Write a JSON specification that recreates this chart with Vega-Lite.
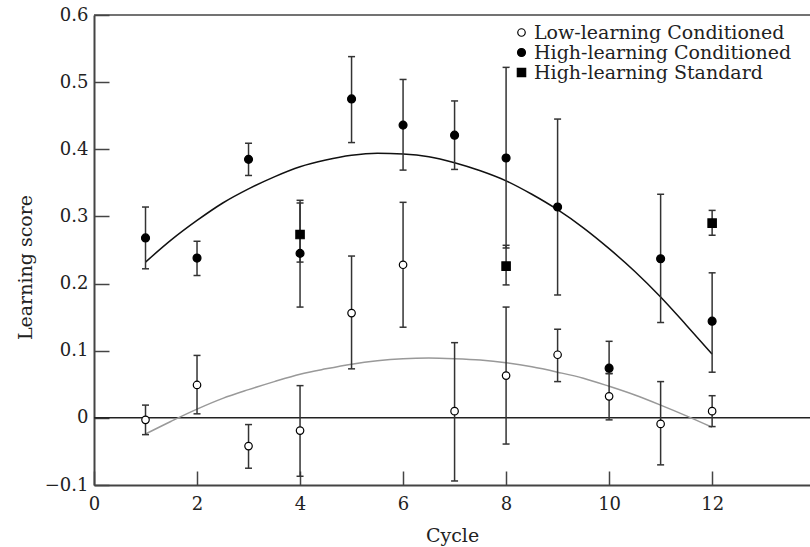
{
  "$schema": "https://vega.github.io/schema/vega-lite/v6.json",
  "width": 716,
  "height": 470,
  "autosize": {"type": "none"},
  "padding": {"left": 94, "top": 15, "right": 0, "bottom": 62},
  "background": "white",
  "config": {
    "view": {"stroke": null},
    "font": "DejaVu Serif",
    "axisX": {
      "grid": false,
      "domainColor": "#444",
      "domainWidth": 2,
      "tickColor": "#444",
      "tickWidth": 1.5,
      "tickSize": -14,
      "labelPadding": 24,
      "labelFont": "DejaVu Serif",
      "labelFontSize": 18,
      "labelColor": "#222",
      "labelFlush": false,
      "titleFont": "DejaVu Serif",
      "titleFontSize": 19,
      "titleFontWeight": "normal",
      "titleColor": "#222",
      "titlePadding": 13
    },
    "axisY": {
      "grid": false,
      "domainColor": "#444",
      "domainWidth": 2,
      "tickColor": "#444",
      "tickWidth": 1.5,
      "tickSize": -15,
      "labelPadding": 21,
      "labelFont": "DejaVu Serif",
      "labelFontSize": 18,
      "labelColor": "#222",
      "labelFlush": false,
      "titleFont": "DejaVu Serif",
      "titleFontSize": 19,
      "titleFontWeight": "normal",
      "titleColor": "#222",
      "titlePadding": 9,
      "titleY": 252
    },
    "legend": {
      "orient": "none",
      "legendX": 418,
      "legendY": 8,
      "labelFont": "DejaVu Serif",
      "labelFontSize": 19,
      "labelColor": "#222",
      "labelLimit": 500,
      "labelOffset": 3,
      "rowPadding": 0,
      "padding": 0,
      "symbolStrokeColor": "black",
      "symbolStrokeWidth": 1.2
    }
  },
  "datasets": {
    "pts": [
      {"cycle": 1, "group": "Low-learning Conditioned", "score": -0.003, "lo": -0.025, "hi": 0.019},
      {"cycle": 2, "group": "Low-learning Conditioned", "score": 0.049, "lo": 0.006, "hi": 0.093},
      {"cycle": 3, "group": "Low-learning Conditioned", "score": -0.042, "lo": -0.075, "hi": -0.010},
      {"cycle": 4, "group": "Low-learning Conditioned", "score": -0.019, "lo": -0.087, "hi": 0.048},
      {"cycle": 5, "group": "Low-learning Conditioned", "score": 0.156, "lo": 0.073, "hi": 0.241},
      {"cycle": 6, "group": "Low-learning Conditioned", "score": 0.228, "lo": 0.135, "hi": 0.321},
      {"cycle": 7, "group": "Low-learning Conditioned", "score": 0.010, "lo": -0.094, "hi": 0.112},
      {"cycle": 8, "group": "Low-learning Conditioned", "score": 0.063, "lo": -0.039, "hi": 0.165},
      {"cycle": 9, "group": "Low-learning Conditioned", "score": 0.094, "lo": 0.054, "hi": 0.132},
      {"cycle": 10, "group": "Low-learning Conditioned", "score": 0.032, "lo": -0.003, "hi": 0.066},
      {"cycle": 11, "group": "Low-learning Conditioned", "score": -0.009, "lo": -0.070, "hi": 0.054},
      {"cycle": 12, "group": "Low-learning Conditioned", "score": 0.010, "lo": -0.013, "hi": 0.033},
      {"cycle": 1, "group": "High-learning Conditioned", "score": 0.268, "lo": 0.222, "hi": 0.314},
      {"cycle": 2, "group": "High-learning Conditioned", "score": 0.238, "lo": 0.212, "hi": 0.263},
      {"cycle": 3, "group": "High-learning Conditioned", "score": 0.385, "lo": 0.361, "hi": 0.409},
      {"cycle": 4, "group": "High-learning Conditioned", "score": 0.245, "lo": 0.165, "hi": 0.324},
      {"cycle": 5, "group": "High-learning Conditioned", "score": 0.475, "lo": 0.410, "hi": 0.538},
      {"cycle": 6, "group": "High-learning Conditioned", "score": 0.436, "lo": 0.369, "hi": 0.504},
      {"cycle": 7, "group": "High-learning Conditioned", "score": 0.421, "lo": 0.370, "hi": 0.472},
      {"cycle": 8, "group": "High-learning Conditioned", "score": 0.387, "lo": 0.253, "hi": 0.522},
      {"cycle": 9, "group": "High-learning Conditioned", "score": 0.314, "lo": 0.183, "hi": 0.445},
      {"cycle": 10, "group": "High-learning Conditioned", "score": 0.074, "lo": 0.066, "hi": 0.114},
      {"cycle": 11, "group": "High-learning Conditioned", "score": 0.237, "lo": 0.142, "hi": 0.333},
      {"cycle": 12, "group": "High-learning Conditioned", "score": 0.144, "lo": 0.068, "hi": 0.216},
      {"cycle": 4, "group": "High-learning Standard", "score": 0.273, "lo": 0.232, "hi": 0.320},
      {"cycle": 8, "group": "High-learning Standard", "score": 0.226, "lo": 0.198, "hi": 0.257},
      {"cycle": 12, "group": "High-learning Standard", "score": 0.290, "lo": 0.272, "hi": 0.309}
    ],
    "hifit": [
      {"cycle": 1, "score": 0.232}, {"cycle": 1.5, "score": 0.265}, {"cycle": 2, "score": 0.294},
      {"cycle": 2.5, "score": 0.320}, {"cycle": 3, "score": 0.341}, {"cycle": 3.5, "score": 0.359},
      {"cycle": 4, "score": 0.374}, {"cycle": 4.5, "score": 0.384}, {"cycle": 5, "score": 0.391},
      {"cycle": 5.5, "score": 0.394}, {"cycle": 6, "score": 0.393}, {"cycle": 6.5, "score": 0.389},
      {"cycle": 7, "score": 0.380}, {"cycle": 7.5, "score": 0.368}, {"cycle": 8, "score": 0.353},
      {"cycle": 8.5, "score": 0.333}, {"cycle": 9, "score": 0.310}, {"cycle": 9.5, "score": 0.283},
      {"cycle": 10, "score": 0.252}, {"cycle": 10.5, "score": 0.218}, {"cycle": 11, "score": 0.180},
      {"cycle": 11.5, "score": 0.138}, {"cycle": 12, "score": 0.095}
    ],
    "lofit": [
      {"cycle": 1, "score": -0.024}, {"cycle": 1.5, "score": -0.005}, {"cycle": 2, "score": 0.013},
      {"cycle": 2.5, "score": 0.029}, {"cycle": 3, "score": 0.042}, {"cycle": 3.5, "score": 0.054},
      {"cycle": 4, "score": 0.065}, {"cycle": 4.5, "score": 0.073}, {"cycle": 5, "score": 0.080},
      {"cycle": 5.5, "score": 0.085}, {"cycle": 6, "score": 0.088}, {"cycle": 6.5, "score": 0.089},
      {"cycle": 7, "score": 0.088}, {"cycle": 7.5, "score": 0.086}, {"cycle": 8, "score": 0.082},
      {"cycle": 8.5, "score": 0.076}, {"cycle": 9, "score": 0.068}, {"cycle": 9.5, "score": 0.059},
      {"cycle": 10, "score": 0.047}, {"cycle": 10.5, "score": 0.034}, {"cycle": 11, "score": 0.019},
      {"cycle": 11.5, "score": 0.003}, {"cycle": 12, "score": -0.014}
    ],
    "refs": [{"level": 0, "kind": "zero"}, {"level": 0.6, "kind": "top"}]
  },
  "layer": [
    {
      "data": {"name": "refs"},
      "mark": {"type": "rule", "strokeWidth": 1.5},
      "encoding": {
        "y": {"field": "level", "type": "quantitative", "scale": {"domain": [-0.1, 0.6], "nice": false, "zero": false},
              "axis": {"title": "Learning score", "values": [-0.1, 0, 0.1, 0.2, 0.3, 0.4, 0.5, 0.6], "format": ".1~f"}},
        "color": {"field": "kind", "type": "nominal", "scale": {"domain": ["zero", "top"], "range": ["#222", "#444"]}, "legend": null}
      }
    },
    {
      "data": {"name": "lofit"},
      "mark": {"type": "line", "color": "#999", "strokeWidth": 1.5, "interpolate": "monotone"},
      "encoding": {
        "x": {"field": "cycle", "type": "quantitative", "scale": {"domain": [0, 13.9], "nice": false, "zero": false},
              "axis": {"title": "Cycle", "values": [0, 2, 4, 6, 8, 10, 12], "format": "d"}},
        "y": {"field": "score", "type": "quantitative", "scale": {"domain": [-0.1, 0.6], "nice": false, "zero": false},
              "axis": {"title": "Learning score", "values": [-0.1, 0, 0.1, 0.2, 0.3, 0.4, 0.5, 0.6], "format": ".1~f"}}
      }
    },
    {
      "data": {"name": "hifit"},
      "mark": {"type": "line", "color": "#111", "strokeWidth": 1.5, "interpolate": "monotone"},
      "encoding": {
        "x": {"field": "cycle", "type": "quantitative", "scale": {"domain": [0, 13.9], "nice": false, "zero": false},
              "axis": {"title": "Cycle", "values": [0, 2, 4, 6, 8, 10, 12], "format": "d"}},
        "y": {"field": "score", "type": "quantitative", "scale": {"domain": [-0.1, 0.6], "nice": false, "zero": false},
              "axis": {"title": "Learning score", "values": [-0.1, 0, 0.1, 0.2, 0.3, 0.4, 0.5, 0.6], "format": ".1~f"}}
      }
    },
    {
      "data": {"name": "pts"},
      "mark": {"type": "rule", "color": "#333", "strokeWidth": 1.5},
      "encoding": {
        "x": {"field": "cycle", "type": "quantitative", "scale": {"domain": [0, 13.9], "nice": false, "zero": false},
              "axis": {"title": "Cycle", "values": [0, 2, 4, 6, 8, 10, 12], "format": "d"}},
        "y": {"field": "lo", "type": "quantitative", "scale": {"domain": [-0.1, 0.6], "nice": false, "zero": false},
              "axis": {"title": "Learning score", "values": [-0.1, 0, 0.1, 0.2, 0.3, 0.4, 0.5, 0.6], "format": ".1~f"}},
        "y2": {"field": "hi"}
      }
    },
    {
      "data": {"name": "pts"},
      "mark": {"type": "tick", "orient": "horizontal", "size": 7, "thickness": 1.5, "color": "#333", "opacity": 1},
      "encoding": {
        "x": {"field": "cycle", "type": "quantitative", "scale": {"domain": [0, 13.9], "nice": false, "zero": false},
              "axis": {"title": "Cycle", "values": [0, 2, 4, 6, 8, 10, 12], "format": "d"}},
        "y": {"field": "lo", "type": "quantitative", "scale": {"domain": [-0.1, 0.6], "nice": false, "zero": false},
              "axis": {"title": "Learning score", "values": [-0.1, 0, 0.1, 0.2, 0.3, 0.4, 0.5, 0.6], "format": ".1~f"}}
      }
    },
    {
      "data": {"name": "pts"},
      "mark": {"type": "tick", "orient": "horizontal", "size": 7, "thickness": 1.5, "color": "#333", "opacity": 1},
      "encoding": {
        "x": {"field": "cycle", "type": "quantitative", "scale": {"domain": [0, 13.9], "nice": false, "zero": false},
              "axis": {"title": "Cycle", "values": [0, 2, 4, 6, 8, 10, 12], "format": "d"}},
        "y": {"field": "hi", "type": "quantitative", "scale": {"domain": [-0.1, 0.6], "nice": false, "zero": false},
              "axis": {"title": "Learning score", "values": [-0.1, 0, 0.1, 0.2, 0.3, 0.4, 0.5, 0.6], "format": ".1~f"}}
      }
    },
    {
      "data": {"name": "pts"},
      "mark": {"type": "point", "filled": true, "strokeWidth": 1.2, "opacity": 1},
      "encoding": {
        "x": {"field": "cycle", "type": "quantitative", "scale": {"domain": [0, 13.9], "nice": false, "zero": false},
              "axis": {"title": "Cycle", "values": [0, 2, 4, 6, 8, 10, 12], "format": "d"}},
        "y": {"field": "score", "type": "quantitative", "scale": {"domain": [-0.1, 0.6], "nice": false, "zero": false},
              "axis": {"title": "Learning score", "values": [-0.1, 0, 0.1, 0.2, 0.3, 0.4, 0.5, 0.6], "format": ".1~f"}},
        "shape": {
          "field": "group", "type": "nominal",
          "scale": {"domain": ["Low-learning Conditioned", "High-learning Conditioned", "High-learning Standard"], "range": ["circle", "circle", "square"]},
          "legend": {"title": null}
        },
        "fill": {
          "field": "group", "type": "nominal",
          "scale": {"domain": ["Low-learning Conditioned", "High-learning Conditioned", "High-learning Standard"], "range": ["white", "black", "black"]},
          "legend": {"title": null}
        },
        "stroke": {
          "field": "group", "type": "nominal",
          "scale": {"domain": ["Low-learning Conditioned", "High-learning Conditioned", "High-learning Standard"], "range": ["black", "black", "black"]},
          "legend": {"title": null}
        },
        "size": {
          "field": "group", "type": "nominal",
          "scale": {"domain": ["Low-learning Conditioned", "High-learning Conditioned", "High-learning Standard"], "range": [56, 70, 130]},
          "legend": {"title": null}
        }
      }
    }
  ]
}
